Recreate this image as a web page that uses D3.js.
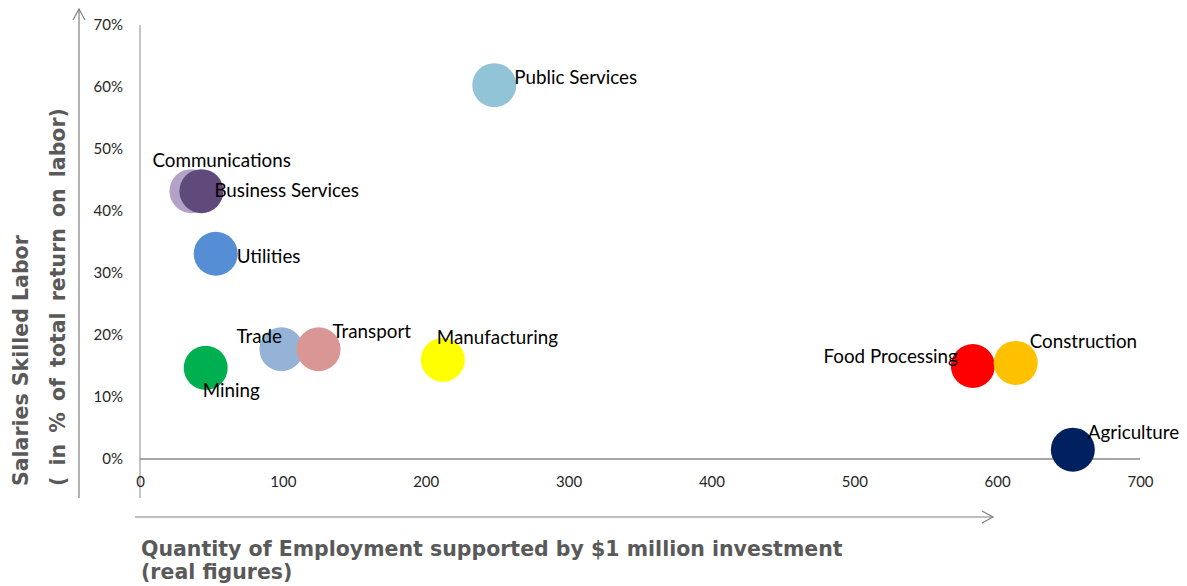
<!DOCTYPE html>
<html>
<head>
<meta charset="utf-8">
<script src="https://cdn.jsdelivr.net/npm/d3@7"></script>
<style>
  html, body { margin: 0; padding: 0; background: #fff; }
  svg { display: block; }
</style>
</head>
<body>
<svg id="chart" width="1187" height="586"></svg>
<script>
// Sectors: jobs supported per $1M invested vs. skilled-labour share of labour income
const sectors = ["Public Services", "Communications", "Business Services", "Utilities",
  "Trade", "Transport", "Mining", "Manufacturing", "Food Processing", "Construction", "Agriculture"];
const employment = [248, 36, 43, 53, 99, 125, 46, 212, 583, 613, 653];
const skilledShare = [0.603, 0.432, 0.432, 0.331, 0.177, 0.177, 0.147, 0.160, 0.150, 0.155, 0.015];
const sectorColors = ["#92C4D7", "#B3A2C7", "#604A7B", "#558ED5", "#95B3D7", "#D99694",
  "#00B050", "#FFFF00", "#FF0000", "#FFC000", "#002060"];
const xTicks = [0, 100, 200, 300, 400, 500, 600, 700];
const yTicks = [0, 0.1, 0.2, 0.3, 0.4, 0.5, 0.6, 0.7];

// label placement around each bubble (pixels from centre, text anchor)
const labelPlacement = {
  "Public Services":   { dx: 20,  dy: -1,  anchor: "start" },
  "Communications":    { dx: -39, dy: -24, anchor: "start" },
  "Business Services": { dx: 13,  dy: 6,   anchor: "start" },
  "Utilities":         { dx: 21,  dy: 9,   anchor: "start" },
  "Trade":             { dx: -45, dy: -6,  anchor: "start" },
  "Transport":         { dx: 14,  dy: -11, anchor: "start" },
  "Mining":            { dx: -3,  dy: 29,  anchor: "start" },
  "Manufacturing":     { dx: -6,  dy: -16, anchor: "start" },
  "Food Processing":   { dx: -15, dy: -3,  anchor: "end" },
  "Construction":      { dx: 14,  dy: -15, anchor: "start" },
  "Agriculture":       { dx: 15,  dy: -11, anchor: "start" }
};

const data = sectors.map((name, i) => ({
  name, x: employment[i], y: skilledShare[i], color: sectorColors[i]
}));

const svg = d3.select("#chart");
const x = d3.scaleLinear().domain([0, 700]).range([140, 1140]);
const y = d3.scaleLinear().domain([0, 0.7]).range([459, 25]);
const axisColor = "#898989";
const labelFont = "Lato, 'Open Sans', sans-serif";
const titleFont = "'DejaVu Sans', Verdana, sans-serif";

// vertical value axis (runs a little below zero, like the source layout)
svg.append("line")
  .attr("x1", x(0)).attr("x2", x(0))
  .attr("y1", y(0.7)).attr("y2", 498)
  .attr("stroke", axisColor).attr("stroke-width", 1);

// horizontal category axis at 0%
svg.append("line")
  .attr("x1", x(0)).attr("x2", x(700))
  .attr("y1", y(0)).attr("y2", y(0))
  .attr("stroke", axisColor).attr("stroke-width", 1.3);

// tick labels
const yAxis = d3.axisLeft(y).tickValues(yTicks).tickFormat(d3.format(".0%")).tickSize(0).tickPadding(17);
const gy = svg.append("g").attr("transform", `translate(${x(0)},0)`).call(yAxis);
gy.select(".domain").remove();
gy.selectAll("text").attr("font-family", labelFont).attr("font-size", 15).attr("fill", "#262626");

const xAxis = d3.axisBottom(x).tickValues(xTicks).tickFormat(d3.format("d")).tickSize(0).tickPadding(17);
const gx = svg.append("g").attr("transform", `translate(0,${y(0)})`).call(xAxis);
gx.select(".domain").remove();
gx.selectAll("text").attr("font-family", labelFont).attr("font-size", 15).attr("fill", "#262626");

// bubbles
svg.append("g").selectAll("circle").data(data).join("circle")
  .attr("cx", d => x(d.x)).attr("cy", d => y(d.y))
  .attr("r", 22)
  .attr("fill", d => d.color);

// bubble labels
svg.append("g").selectAll("text").data(data).join("text")
  .attr("x", d => x(d.x) + labelPlacement[d.name].dx)
  .attr("y", d => y(d.y) + labelPlacement[d.name].dy)
  .attr("text-anchor", d => labelPlacement[d.name].anchor)
  .attr("font-family", labelFont).attr("font-size", 18.8).attr("fill", "#000")
  .text(d => d.name);

// guide arrows
const arrowColor = "#7F7F7F";
const vArrow = svg.append("g").attr("stroke", arrowColor).attr("fill", "none").attr("stroke-width", 1.2);
vArrow.append("line").attr("x1", 79).attr("x2", 79).attr("y1", 9).attr("y2", 498);
vArrow.append("path").attr("d", "M73,20 L79,9 L85,20");

const hArrow = svg.append("g").attr("stroke", arrowColor).attr("fill", "none").attr("stroke-width", 1.2);
hArrow.append("line").attr("x1", 135).attr("x2", 993).attr("y1", 517).attr("y2", 517);
hArrow.append("path").attr("d", "M982,511 L993,517 L982,523");

// axis titles
const yTitle = svg.append("text")
  .attr("transform", "translate(0,486) rotate(-90)")
  .attr("font-family", titleFont).attr("font-weight", "bold")
  .attr("font-size", 20.5).attr("fill", "#595959");
yTitle.append("tspan").attr("x", 0).attr("y", 28).text("Salaries Skilled Labor");
yTitle.append("tspan").attr("x", 0).attr("y", 65).attr("word-spacing", 4)
  .text("( in % of total return on labor)");

const xTitle = svg.append("text")
  .attr("font-family", titleFont).attr("font-weight", "bold")
  .attr("font-size", 20.5).attr("fill", "#595959");
xTitle.append("tspan").attr("x", 141).attr("y", 556).text("Quantity of Employment supported by $1 million investment");
xTitle.append("tspan").attr("x", 141).attr("y", 579).text("(real figures)");
</script>
</body>
</html>
